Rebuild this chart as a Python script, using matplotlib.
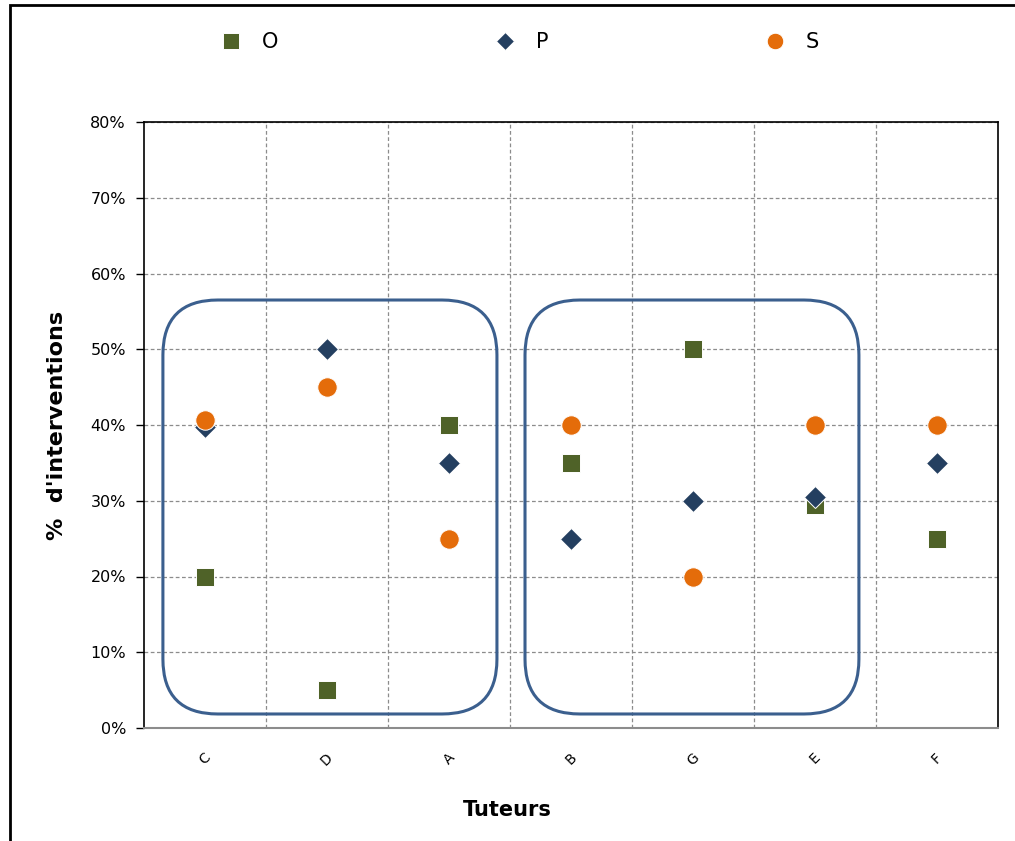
import matplotlib.pyplot as plt
from matplotlib.patches import FancyBboxPatch, Rectangle

# tutors in display order and the share of interventions per type
tuteurs = ["C", "D", "A", "B", "G", "E", "F"]
serie_o = [20, 5, 40, 35, 50, 29.5, 25]
serie_p = [39.7, 50, 35, 25, 30, 30.5, 35]
serie_s = [40.6, 45, 25, 40, 20, 40, 40]
y_ticks = [0, 10, 20, 30, 40, 50, 60, 70, 80]

plt.rcParams["font.family"] = "DejaVu Sans"

fig = plt.figure(figsize=(10.15, 8.41), dpi=100)
ax = fig.add_axes([144 / 1015, 1 - 728 / 841, 854 / 1015, 606 / 841])

x = list(range(len(tuteurs)))
ax.plot(x, serie_o, ls="none", marker="s", ms=13, color="#4F6228",
        mec="white", mew=0.7, label="O", zorder=3)
ax.plot(x, serie_p, ls="none", marker="D", ms=11, color="#243F60",
        mec="white", mew=0.7, label="P", zorder=4)
ax.plot(x, serie_s, ls="none", marker="o", ms=14, color="#E46C0A",
        mec="white", mew=0.7, label="S", zorder=5)

ax.set_xlim(-0.5, len(tuteurs) - 0.5)
ax.set_ylim(0, 80)
ax.set_yticks(y_ticks)
ax.set_yticklabels([f"{v}%" for v in y_ticks], fontsize=11.5)
ax.set_xticks(x)
ax.set_xticklabels(tuteurs, rotation=45, fontsize=10)
ax.set_xticks([i + 0.5 for i in x[:-1]], minor=True)
ax.tick_params(axis="x", which="both", length=0, pad=16)
ax.tick_params(axis="y", direction="out", length=6, width=1, pad=7)

# dashed grid: horizontal at the % steps, vertical between tutors
ax.grid(True, axis="y", which="major", ls=(0, (3, 2)), color="#8C8C8C", lw=0.9)
ax.grid(True, axis="x", which="minor", ls=(0, (3, 2)), color="#8C8C8C", lw=0.9)
ax.set_axisbelow(True)

for side in ["left", "top", "right"]:
    ax.spines[side].set_color("black")
    ax.spines[side].set_linewidth(1.2)
ax.spines["bottom"].set_color("#8C8C8C")
ax.spines["bottom"].set_linewidth(1.5)

ax.set_ylabel("%  d'interventions", fontsize=16, fontweight="bold")
ax.yaxis.set_label_coords(-77 / 854, 0.5)
ax.set_xlabel("Tuteurs", fontsize=15, fontweight="bold")
ax.xaxis.set_label_coords((507 - 144) / 854, -(800 - 728) / 606)

# the two rounded groups
for x0, x1 in [(-0.345, 2.393), (2.623, 5.36)]:
    box = FancyBboxPatch((x0, 1.85), x1 - x0, 56.5 - 1.85,
                         boxstyle="round,pad=0,rounding_size=0.45",
                         mutation_aspect=16.1, fill=False,
                         ec="#3B5F8E", lw=2.2, zorder=2)
    ax.add_patch(box)

fig.legend(loc="center", bbox_to_anchor=(0.507, 0.95), ncol=3,
           frameon=False, fontsize=15, markerscale=0.85,
           handletextpad=0.5, columnspacing=9.85)

# outer chart frame
fig.patches.append(Rectangle((10 / 1015, -0.1), 1.2, 1 - 5 / 841 + 0.1,
                             transform=fig.transFigure, fill=False,
                             ec="black", lw=2))

fig.savefig("out.png", dpi=100)
